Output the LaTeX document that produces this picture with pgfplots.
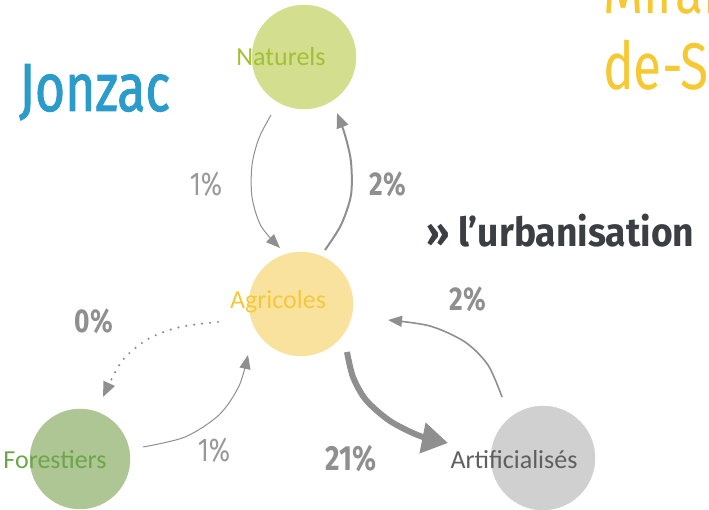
\documentclass[border=0pt]{standalone}
\usepackage{pgfplots}
\pgfplotsset{compat=1.18}
\usetikzlibrary{arrows.meta}
\usepackage{fontspec}
\setmainfont{Carlito}
\newfontfamily\din[FakeStretch=0.78]{Fira Sans}
\newfontfamily\dinm[FakeStretch=0.76, FakeBold=1.3]{Fira Sans}
\newfontfamily\dinb[FakeStretch=0.8]{Fira Sans Bold}
\newfontfamily\dinw[FakeStretch=0.93]{Fira Sans Bold}

\definecolor{natfill}{HTML}{D3DE8E}
\definecolor{nattext}{HTML}{A3C034}
\definecolor{agrfill}{HTML}{F9E29E}
\definecolor{agrtext}{HTML}{F3C93A}
\definecolor{forfill}{HTML}{ADC693}
\definecolor{fortext}{HTML}{6DA64A}
\definecolor{artfill}{HTML}{D0D0D0}
\definecolor{arttext}{HTML}{5F5F5F}
\definecolor{flow}{HTML}{8F8F8F}
\definecolor{pct}{HTML}{999999}
\definecolor{jonzac}{HTML}{2A9BCB}
\definecolor{urba}{HTML}{3B3E43}
\definecolor{titleyel}{HTML}{F6C832}

\begin{document}
\begin{tikzpicture}
\begin{axis}[
    set layers=standard,
    scale only axis,
    width=709pt, height=509pt,
    xmin=0, xmax=709, ymin=0, ymax=509,
    y dir=reverse,
    hide axis,
    clip=true,
]
% land-use pools (circles)
\addplot[only marks, mark=*, mark size=52, natfill, mark options={draw=none}] coordinates {(304,57)};
\addplot[only marks, mark=*, mark size=52, agrfill, mark options={draw=none}] coordinates {(301,304)};
\addplot[only marks, mark=*, mark size=50, forfill, mark options={draw=none}] coordinates {(80,459)};
\addplot[only marks, mark=*, mark size=52, artfill, mark options={draw=none}] coordinates {(543,458)};

% flows
\addplot[smooth, flow, line width=1pt, -{Triangle[length=14pt,width=11pt]}] coordinates {(271,115) (259,138) (252,165) (252,197) (261,226) (280,248)}; % nat -> agr 1%
\addplot[smooth, flow, line width=2pt, -{Triangle[length=15pt,width=12pt]}] coordinates {(325,250) (341,225) (351,195) (351,162) (345,135) (337,113)}; % agr -> nat 2%
\addplot[smooth, flow, line width=2.4pt, line cap=round, dash pattern=on 0pt off 8pt, -{Triangle[length=15pt,width=12pt]}] coordinates {(218,322) (180,327) (148,339) (122,361) (103,397)}; % agr -> for 0%
\addplot[smooth, flow, line width=1pt, -{Triangle[length=14pt,width=11pt]}] coordinates {(143,447) (185,437) (219,415) (239,386) (248,355)}; % for -> agr 1%
\addplot[smooth, flow, line width=6pt, -{Triangle[length=26pt,width=30pt]}] coordinates {(347,352) (353,377) (366,400) (390,421) (420,436) (448,443)}; % agr -> art 21%
\addplot[smooth, flow, line width=1.6pt, -{Triangle[length=14pt,width=11pt]}] coordinates {(502,397) (488,365) (465,342) (430,326) (388,320)}; % art -> agr 2%

\begin{pgfonlayer}{axis foreground}
\node[nattext] at (axis cs:281,57) {\fontsize{26}{28}\selectfont Naturels};
\node[agrtext] at (axis cs:278,302) {\fontsize{26}{28}\selectfont Agricoles};
\node[fortext] at (axis cs:55,460) {\fontsize{26}{28}\selectfont Forestiers};
\node[arttext] at (axis cs:514,460) {\fontsize{26}{28}\selectfont Artificialisés};

\node[pct] at (axis cs:206,184) {\din\fontsize{33}{35}\selectfont 1\%};
\node[flow] at (axis cs:388,184) {\dinb\fontsize{33}{35}\selectfont 2\%};
\node[flow] at (axis cs:94,321) {\dinb\fontsize{33}{35}\selectfont 0\%};
\node[pct] at (axis cs:214,450) {\din\fontsize{33}{35}\selectfont 1\%};
\node[flow] at (axis cs:468,299) {\dinb\fontsize{33}{35}\selectfont 2\%};
\node[flow] at (axis cs:351,459) {\dinb\fontsize{35}{37}\selectfont 21\%};

\node[jonzac, anchor=base west, inner sep=0pt] at (axis cs:19,111) {\dinm\fontsize{68}{70}\selectfont Jonzac};
\node[urba, anchor=base west, inner sep=0pt] at (axis cs:426,247) {\dinw\fontsize{40}{42}\selectfont » l’urbanisation};
\node[titleyel, anchor=base west, inner sep=0pt] at (axis cs:603,14) {\din\fontsize{66}{68}\selectfont Mirambeau};
\node[titleyel, anchor=base west, inner sep=0pt] at (axis cs:603,90) {\din\fontsize{66}{68}\selectfont de-Saintonge};
\end{pgfonlayer}
\end{axis}
\pgfresetboundingbox
\path (current axis.south west) rectangle (current axis.north east);
\end{tikzpicture}
\end{document}
